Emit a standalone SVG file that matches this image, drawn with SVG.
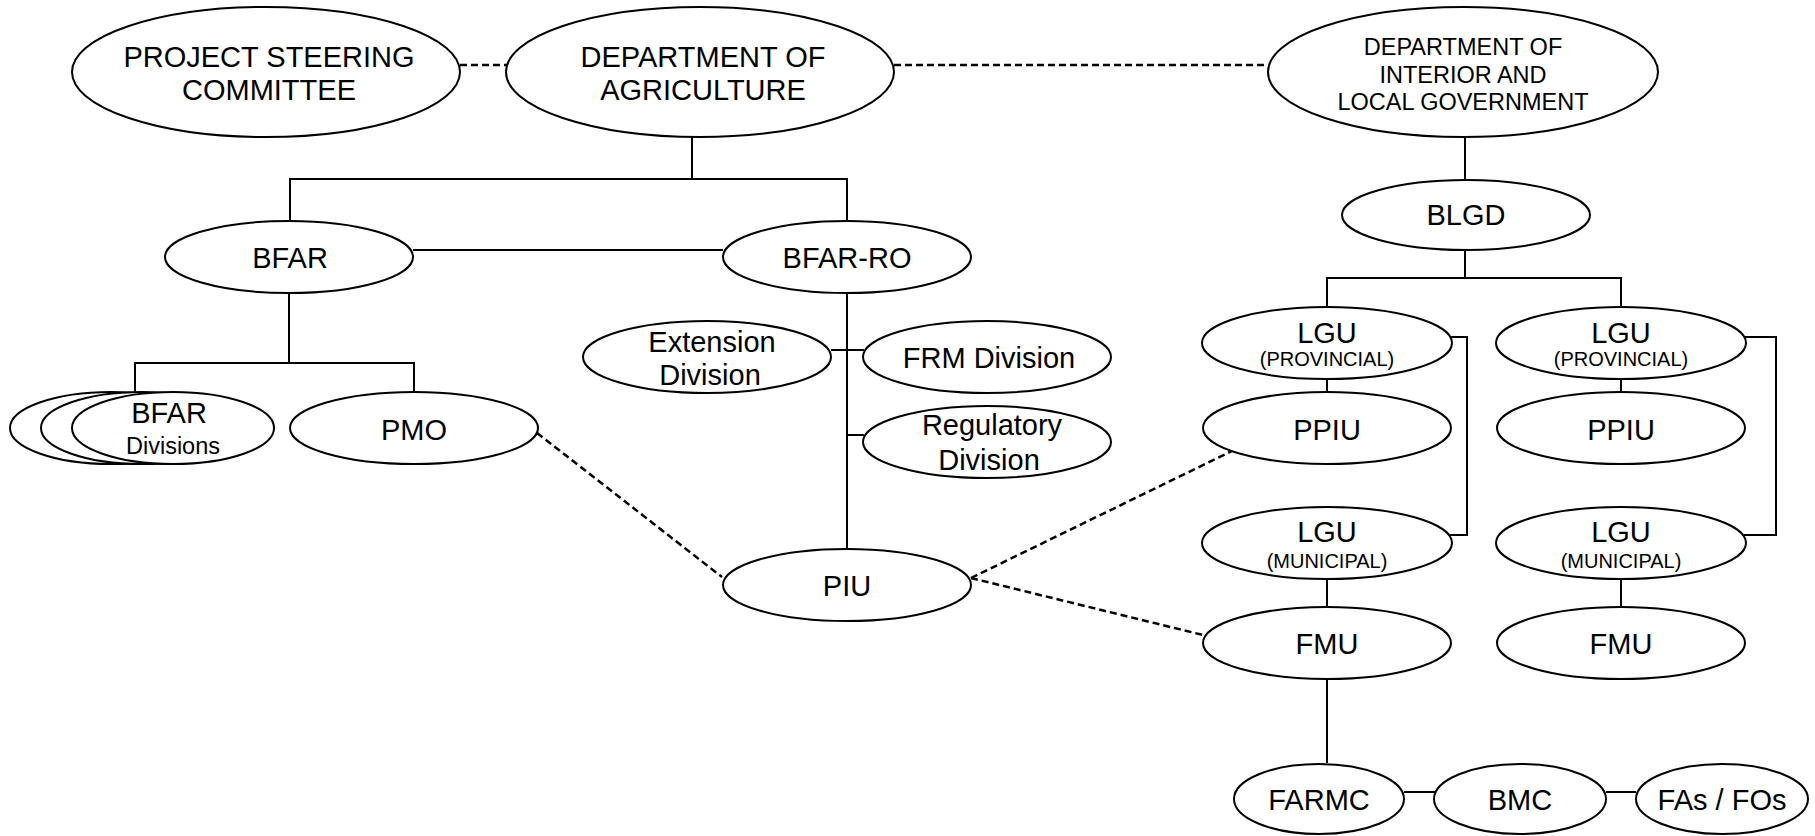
<svg xmlns="http://www.w3.org/2000/svg" width="1815" height="836" viewBox="0 0 1815 836">
<style>
.n ellipse{fill:#fff;stroke:#000;stroke-width:2}
text{font-family:"Liberation Sans",Arial,sans-serif;fill:#000;text-anchor:middle}
.t{font-size:29px}
.m{font-size:23.5px}
.s{font-size:20px}
.c line,.c polyline{stroke:#000;stroke-width:2;fill:none}
.c .d{stroke-width:2.5;stroke-dasharray:7 4}
</style>
<rect width="1815" height="836" fill="#fff"/>
<g class="c" id="connectors">
<line class="d" x1="460" y1="65" x2="507" y2="65"/>
<line class="d" x1="894" y1="65" x2="1267" y2="65"/>
<line class="d" x1="537" y1="433" x2="722" y2="577"/>
<line class="d" x1="971" y1="578" x2="1232" y2="451"/>
<line class="d" x1="971" y1="578" x2="1203" y2="635"/>
<line x1="692" y1="137" x2="692" y2="179"/>
<polyline points="290,221 290,179 847,179 847,221"/>
<line x1="413" y1="250" x2="723" y2="250"/>
<line x1="289" y1="293" x2="289" y2="363"/>
<polyline points="135,394 135,363 414,363 414,392"/>
<line x1="847" y1="293" x2="847" y2="549"/>
<line x1="831" y1="350" x2="864" y2="350"/>
<line x1="847" y1="435" x2="864" y2="435"/>
<line x1="1465" y1="137" x2="1465" y2="180"/>
<line x1="1465" y1="250" x2="1465" y2="278"/>
<polyline points="1327,307 1327,278 1621,278 1621,307"/>
<line x1="1327" y1="379" x2="1327" y2="392"/>
<line x1="1621" y1="379" x2="1621" y2="392"/>
<polyline points="1451,337 1467,337 1467,535 1450,535"/>
<polyline points="1745,337 1776,337 1776,535 1744,535"/>
<line x1="1327" y1="579" x2="1327" y2="607"/>
<line x1="1621" y1="579" x2="1621" y2="607"/>
<line x1="1327" y1="679" x2="1327" y2="763"/>
<line x1="1404" y1="792" x2="1435" y2="792"/>
<line x1="1606" y1="792" x2="1636" y2="792"/>
</g>
<g class="n" id="psc"><ellipse cx="266" cy="72" rx="194" ry="65"/><text class="t" x="269" y="67">PROJECT STEERING</text><text class="t" x="269" y="100">COMMITTEE</text></g>
<g class="n" id="da"><ellipse cx="700" cy="72" rx="194" ry="65"/><text class="t" x="703" y="67">DEPARTMENT OF</text><text class="t" x="703" y="100">AGRICULTURE</text></g>
<g class="n" id="dilg"><ellipse cx="1463" cy="72" rx="195" ry="65"/><text class="m" x="1463" y="55">DEPARTMENT OF</text><text class="m" x="1463" y="83">INTERIOR AND</text><text class="m" x="1463" y="110">LOCAL GOVERNMENT</text></g>
<g class="n" id="bfar"><ellipse cx="289" cy="257" rx="124" ry="36"/><text class="t" x="290" y="268">BFAR</text></g>
<g class="n" id="bfar-ro"><ellipse cx="847" cy="257" rx="124" ry="36"/><text class="t" x="847" y="268">BFAR-RO</text></g>
<g class="n" id="blgd"><ellipse cx="1466" cy="215" rx="124" ry="35"/><text class="t" x="1466" y="225">BLGD</text></g>
<g class="n" id="extension"><ellipse cx="707" cy="357" rx="124" ry="36"/><text class="t" x="712" y="352">Extension</text><text class="t" x="710" y="385">Division</text></g>
<g class="n" id="frm"><ellipse cx="987" cy="357" rx="124" ry="36"/><text class="t" x="989" y="368">FRM Division</text></g>
<g class="n" id="regulatory"><ellipse cx="987" cy="442" rx="124" ry="36"/><text class="t" x="992" y="435">Regulatory</text><text class="t" x="989" y="470">Division</text></g>
<g class="n" id="bfar-divisions"><ellipse cx="111" cy="428" rx="101" ry="36"/><ellipse cx="142" cy="428" rx="101" ry="36"/><ellipse cx="173" cy="428" rx="101" ry="36"/><text class="t" x="169" y="423">BFAR</text><text class="m" x="173" y="454">Divisions</text></g>
<g class="n" id="pmo"><ellipse cx="414" cy="428" rx="124" ry="36"/><text class="t" x="414" y="440">PMO</text></g>
<g class="n" id="piu"><ellipse cx="847" cy="585" rx="124" ry="36"/><text class="t" x="847" y="596">PIU</text></g>
<g class="n" id="lgu-prov-1"><ellipse cx="1327" cy="343" rx="125" ry="36"/><text class="t" x="1327" y="343">LGU</text><text class="s" x="1327" y="366">(PROVINCIAL)</text></g>
<g class="n" id="lgu-prov-2"><ellipse cx="1621" cy="343" rx="125" ry="36"/><text class="t" x="1621" y="343">LGU</text><text class="s" x="1621" y="366">(PROVINCIAL)</text></g>
<g class="n" id="ppiu-1"><ellipse cx="1327" cy="428" rx="124" ry="36"/><text class="t" x="1327" y="440">PPIU</text></g>
<g class="n" id="ppiu-2"><ellipse cx="1621" cy="428" rx="124" ry="36"/><text class="t" x="1621" y="440">PPIU</text></g>
<g class="n" id="lgu-mun-1"><ellipse cx="1327" cy="543" rx="125" ry="36"/><text class="t" x="1327" y="542">LGU</text><text class="s" x="1327" y="568">(MUNICIPAL)</text></g>
<g class="n" id="lgu-mun-2"><ellipse cx="1621" cy="543" rx="125" ry="36"/><text class="t" x="1621" y="542">LGU</text><text class="s" x="1621" y="568">(MUNICIPAL)</text></g>
<g class="n" id="fmu-1"><ellipse cx="1327" cy="643" rx="124" ry="36"/><text class="t" x="1327" y="654">FMU</text></g>
<g class="n" id="fmu-2"><ellipse cx="1621" cy="643" rx="124" ry="36"/><text class="t" x="1621" y="654">FMU</text></g>
<g class="n" id="farmc"><ellipse cx="1319" cy="799" rx="85" ry="35"/><text class="t" x="1319" y="810">FARMC</text></g>
<g class="n" id="bmc"><ellipse cx="1520" cy="799" rx="86" ry="35"/><text class="t" x="1520" y="810">BMC</text></g>
<g class="n" id="fas-fos"><ellipse cx="1722" cy="799" rx="86" ry="35"/><text class="t" x="1722" y="810">FAs / FOs</text></g>
</svg>
